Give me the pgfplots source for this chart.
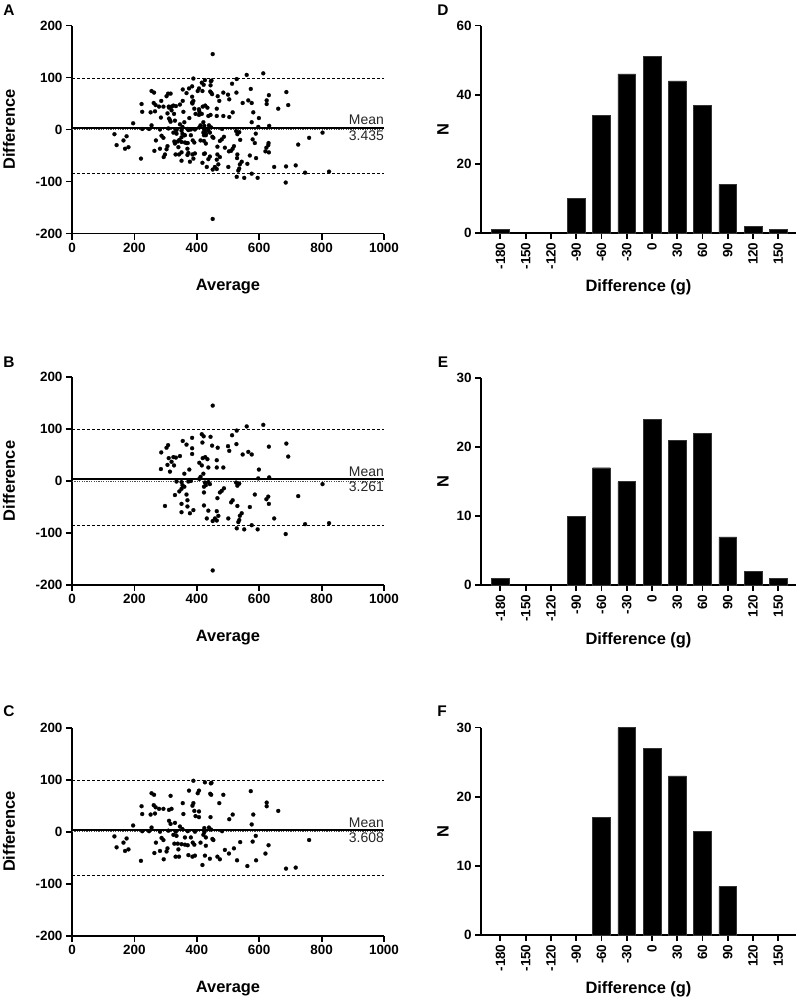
\documentclass[border=0pt]{standalone}
\usepackage{fontspec}
\setmainfont{Liberation Sans}
\usepackage{pgfplots}
\usepackage{pgfplotstable}
\pgfplotsset{compat=1.18}

\pgfplotstableread[row sep=\\]{
x y\\
451 145\\ 560 105\\ 528 97\\ 513 88\\ 416 90\\ 422 86\\ 444 85\\ 385 83\\ 355 77\\ 367 70\\
418 74\\ 385 63\\ 308 69\\ 303 64\\ 449 68\\ 467 64\\ 500 67\\ 527 71\\ 504 58\\ 286 55\\
385 52\\ 547 51\\ 565 56\\ 576 51\\ 325 46\\ 310 44\\ 333 45\\ 346 48\\ 427 46\\ 419 44\\
434 42\\ 464 40\\ 319 37\\ 306 31\\ 327 30\\ 408 35\\ 416 30\\ 437 26\\ 464 26\\ 485 26\\
285 23\\ 376 22\\ 314 18\\ 360 14\\ 421 14\\ 412 8\\ 408 4\\ 599 22\\ 335 -1\\ 351 -2\\
373 -1\\ 381 0\\ 426 -3\\ 437 -2\\ 526 -3\\ 536 -5\\ 354 -8\\ 360 -11\\ 429 -8\\ 442 -6\\
530 -9\\ 351 -15\\ 423 -11\\ 487 -14\\ 480 -19\\ 344 -20\\ 474 -22\\ 330 -27\\ 367 -26\\ 423 -22\\
586 -26\\ 466 -33\\ 370 -37\\ 515 -37\\ 510 -41\\ 298 -48\\ 351 -44\\ 370 -49\\ 423 -47\\ 530 -48\\
570 -50\\ 389 -56\\ 437 -57\\ 351 -60\\ 378 -62\\ 464 -58\\ 544 -62\\ 538 -67\\ 469 -67\\ 432 -72\\
458 -72\\ 501 -72\\ 536 -75\\ 451 -77\\ 464 -76\\ 533 -79\\ 576 -85\\ 528 -91\\ 552 -93\\ 595 -93\\
613 108\\ 631 66\\ 687 72\\ 693 47\\ 597 5\\ 632 7\\ 803 -6\\ 629 -30\\ 623 -35\\ 631 -44\\
725 -29\\ 648 -72\\ 747 -83\\ 824 -81\\ 685 -102\\ 451 -172\\
}\Bdata

\pgfplotstableread[row sep=\\]{
x y\\
389 98\\ 426 95\\ 445 93\\ 375 79\\ 403 74\\ 407 79\\ 255 74\\ 263 71\\ 316 69\\ 443 73\\
355 55\\ 389 55\\ 386 50\\ 223 49\\ 262 51\\ 268 47\\ 279 44\\ 293 44\\ 311 42\\ 319 44\\
392 40\\ 407 39\\ 225 34\\ 252 33\\ 266 35\\ 357 34\\ 396 30\\ 407 28\\ 311 21\\ 316 15\\
330 17\\ 196 12\\ 255 8\\ 424 7\\ 439 8\\ 346 10\\ 225 1\\ 247 1\\ 309 2\\ 371 1\\
394 0\\ 424 -1\\ 333 0\\ 282 0\\ 354 5\\ 136 -9\\ 175 -13\\ 165 -21\\ 143 -30\\ 325 -6\\
335 -8\\ 287 -12\\ 362 -11\\ 381 -11\\ 421 -6\\ 429 -11\\ 450 -14\\ 269 -21\\ 293 -16\\ 328 -23\\
339 -23\\ 351 -24\\ 362 -25\\ 371 -26\\ 387 -21\\ 392 -25\\ 412 -21\\ 429 -27\\ 181 -34\\ 170 -37\\
306 -32\\ 282 -37\\ 303 -38\\ 341 -34\\ 264 -41\\ 332 -48\\ 343 -48\\ 373 -45\\ 386 -48\\ 394 -46\\
426 -46\\ 294 -53\\ 221 -56\\ 418 -64\\
447 94\\ 446 71\\ 485 71\\ 573 78\\ 472 55\\ 624 56\\ 624 49\\ 661 40\\ 444 28\\ 515 33\\
504 24\\ 581 33\\ 576 14\\ 446 4\\ 481 1\\ 589 -8\\ 453 -16\\ 579 -19\\ 539 -20\\ 630 -26\\
760 -16\\ 519 -32\\ 490 -35\\ 503 -42\\ 620 -42\\ 442 -52\\ 466 -48\\ 474 -53\\ 529 -55\\ 590 -55\\
562 -66\\ 686 -71\\ 717 -69\\
}\Cdata

\pgfplotsset{
  common/.style={
    scale only axis, clip=false,
    axis lines=left,
    axis line style={-, line width=1.8bp, black},
    tick style={line width=1.8bp, black},
    tick align=outside,
    major tick length=6bp,
    ticklabel style={font=\bfseries\fontsize{13.5}{15}\selectfont},
    label style={font=\bfseries\fontsize{16.5}{18}\selectfont},
  },
  ba/.style={
    common,
    width=312bp, height=208bp,
    xmin=0, xmax=1000, ymin=-200, ymax=200,
    xtick={0,200,400,600,800,1000},
    xticklabels={0,200,400,600,800,1000},
    ytick={-200,-100,0,100,200},
    yticklabels={-200,-100,0,100,200},
    xlabel={Average}, ylabel={Difference},
    xlabel style={at={(axis description cs:0.5,-0.255)}, anchor=center},
    ylabel style={at={(axis description cs:-0.202,0.5)}, anchor=center},
  },
  hist/.style={
    common,
    width=315bp, height=207.5bp,
    xmin=-203, xmax=171, ymin=0,
    xtick={-180,-150,-120,-90,-60,-30,0,30,60,90,120,150},
    xticklabels={-180,-150,-120,-90,-60,-30,0,30,60,90,120,150},
    xticklabel style={rotate=90, anchor=east},
    xlabel={Difference (g)}, ylabel={N},
    xlabel style={at={(axis description cs:0.5,-0.263)}, anchor=center},
    ylabel style={at={(axis description cs:-0.121,0.5)}, anchor=center},
  },
  meanline/.style={black, line width=1.8bp},
  sdline/.style={black, line width=0.8bp, dash pattern=on 3bp off 2bp},
  zeroline/.style={black!70, line width=1bp, dash pattern=on 1.2bp off 1.2bp},
  pts/.style={only marks, mark=*, mark size=2bp, mark options={fill=black, draw=black, line width=0.2bp}},
  barstyle/.style={ybar, bar width=17.7bp, fill=black, draw=black!80, line width=0.4bp},
}

\newcommand{\meanlabel}[1]{%
  \node[anchor=south east, inner sep=2.5bp, xshift=2.5bp, text=black!85,
        font=\fontsize{14}{15}\selectfont] at (axis cs:1000,#1) {Mean};
  \node[anchor=north east, inner sep=2.5bp, xshift=2.5bp, text=black!85,
        font=\fontsize{14}{15}\selectfont] at (axis cs:1000,#1) {#1};
}

\begin{document}
\begin{tikzpicture}
\useasboundingbox (0,0) rectangle (798bp,-1000bp);

% ---------- A ----------
\begin{axis}[ba, at={(72bp,-233.5bp)}, anchor=south west]
  \addplot[zeroline] coordinates {(0,0) (1000,0)};
  \addplot[sdline] coordinates {(0,99) (1000,99)};
  \addplot[sdline] coordinates {(0,-85) (1000,-85)};
  \addplot[meanline] coordinates {(0,3.435) (1000,3.435)};
  \addplot[pts] table[x=x,y=y] {\Bdata};
  \addplot[pts] table[x=x,y=y] {\Cdata};
  \meanlabel{3.435}
\end{axis}

% ---------- B ----------
\begin{axis}[ba, at={(72bp,-585bp)}, anchor=south west]
  \addplot[zeroline] coordinates {(0,0) (1000,0)};
  \addplot[sdline] coordinates {(0,99.4) (1000,99.4)};
  \addplot[sdline] coordinates {(0,-84.6) (1000,-84.6)};
  \addplot[meanline] coordinates {(0,3.261) (1000,3.261)};
  \addplot[pts] table[x=x,y=y] {\Bdata};
  \meanlabel{3.261}
\end{axis}

% ---------- C ----------
\begin{axis}[ba, at={(72bp,-935.7bp)}, anchor=south west]
  \addplot[zeroline] coordinates {(0,0) (1000,0)};
  \addplot[sdline] coordinates {(0,99.5) (1000,99.5)};
  \addplot[sdline] coordinates {(0,-84.6) (1000,-84.6)};
  \addplot[meanline] coordinates {(0,3.608) (1000,3.608)};
  \addplot[pts] table[x=x,y=y] {\Cdata};
  \meanlabel{3.608}
\end{axis}

% ---------- D ----------
\begin{axis}[hist, at={(481bp,-233bp)}, anchor=south west,
  ymax=60, ytick={0,20,40,60}, yticklabels={0,20,40,60}]
  \addplot[barstyle] coordinates {(-180,1) (-90,10) (-60,34) (-30,46) (0,51) (30,44) (60,37) (90,14) (120,2) (150,1)};
\end{axis}

% ---------- E ----------
\begin{axis}[hist, at={(481bp,-585.3bp)}, anchor=south west,
  ymax=30, ytick={0,10,20,30}, yticklabels={0,10,20,30}]
  \addplot[barstyle] coordinates {(-180,1) (-90,10) (-60,17) (-30,15) (0,24) (30,21) (60,22) (90,7) (120,2) (150,1)};
\end{axis}

% ---------- F ----------
\begin{axis}[hist, at={(481bp,-935bp)}, anchor=south west,
  ymax=30, ytick={0,10,20,30}, yticklabels={0,10,20,30}]
  \addplot[barstyle] coordinates {(-60,17) (-30,30) (0,27) (30,23) (60,15) (90,7)};
\end{axis}

% panel letters
\begin{scope}[every node/.style={font=\bfseries\fontsize{15.5}{17}\selectfont, inner sep=0pt}]
  \node at (9bp,-10.5bp) {A};
  \node at (9bp,-362bp) {B};
  \node at (9bp,-711bp) {C};
  \node at (443bp,-10bp) {D};
  \node at (443bp,-362bp) {E};
  \node at (442bp,-711bp) {F};
\end{scope}
\end{tikzpicture}
\end{document}
